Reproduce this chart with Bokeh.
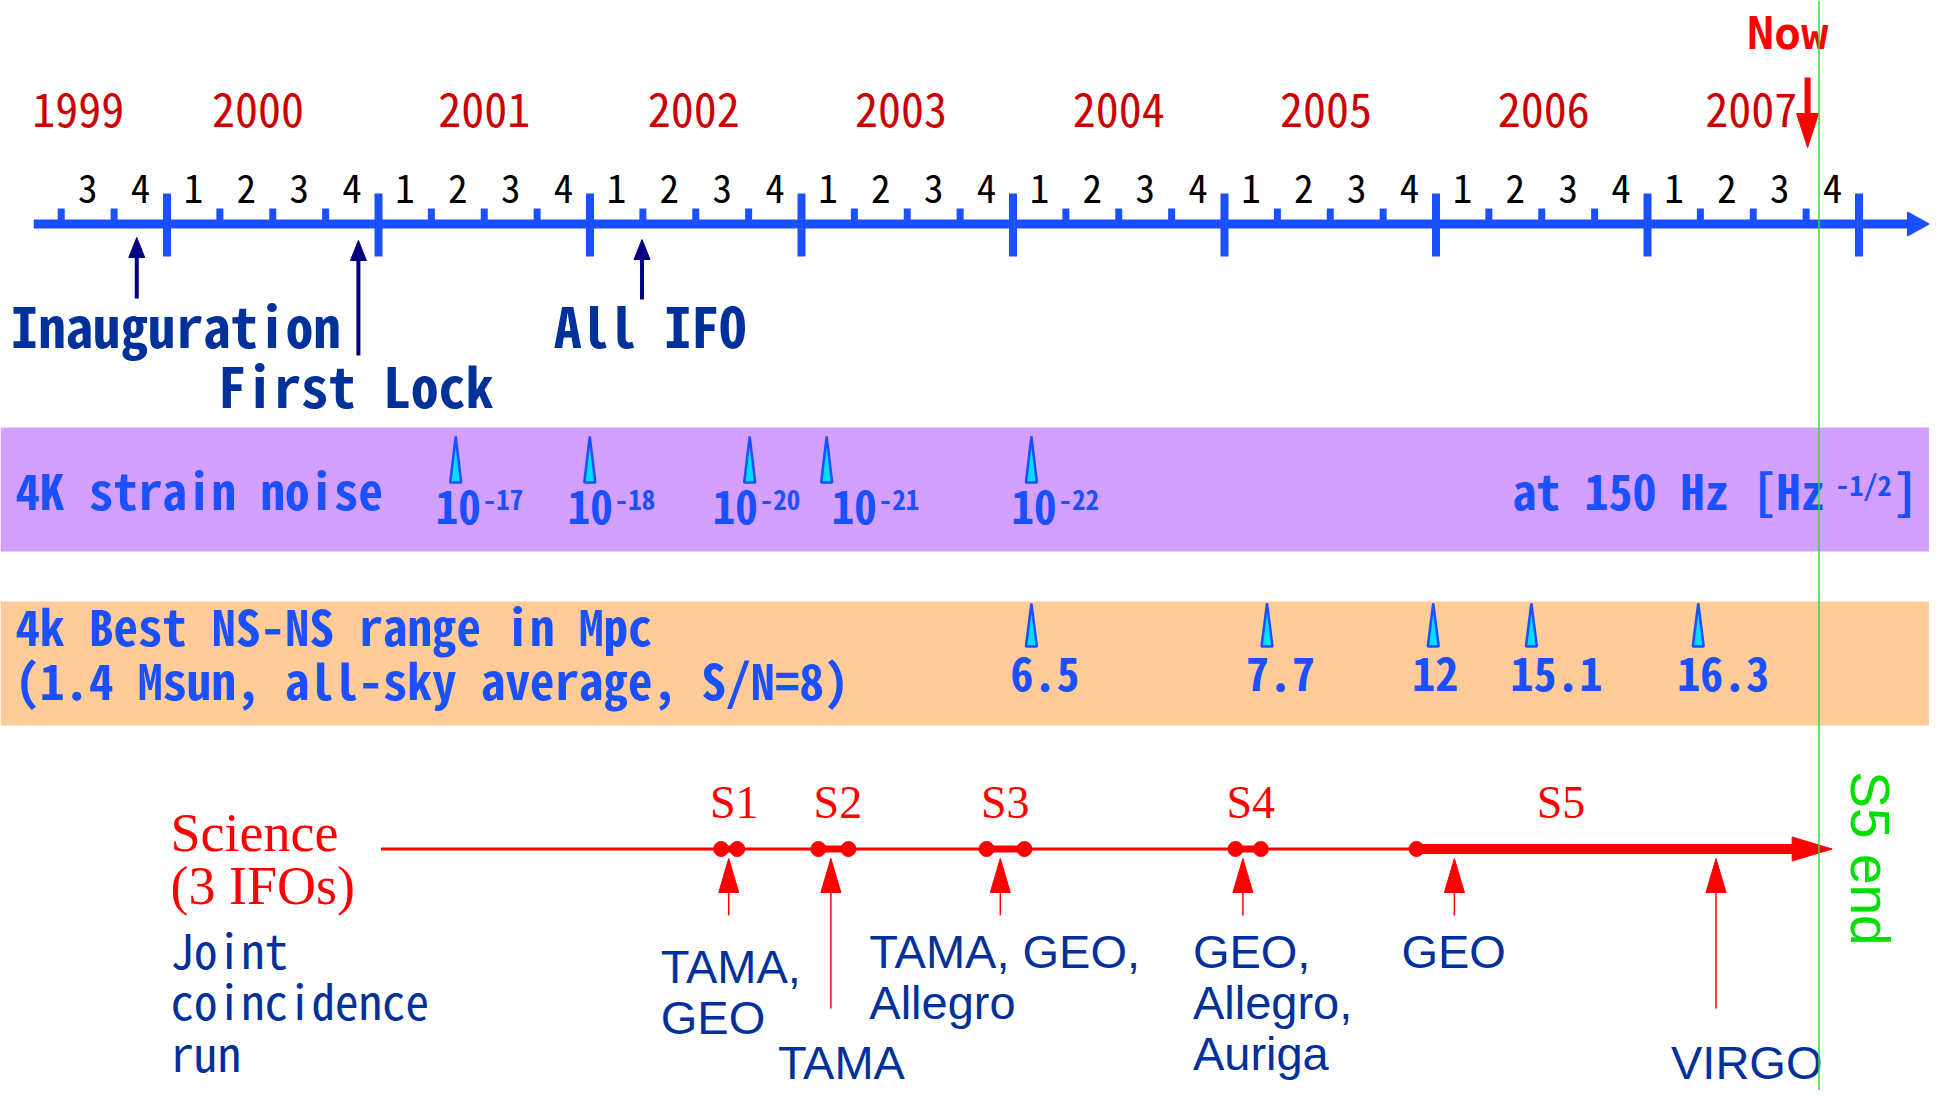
import numpy as np
from bokeh.plotting import figure
from bokeh.models import Range1d
from bokeh.core.properties import value
from bokeh.embed import file_html
from bokeh.resources import INLINE

# ---------------- data (in calendar years) ----------------
year_ticks = [2000, 2001, 2002, 2003, 2004, 2005, 2006, 2007, 2008]
year_labels = ["1999", "2000", "2001", "2002", "2003", "2004", "2005", "2006", "2007"]
year_label_x = [1999.58, 2000.43, 2001.50, 2002.49, 2003.47, 2004.50, 2005.48, 2006.51, 2007.49]
quarter_names = ["1", "2", "3", "4"]
timeline_start = 1999.37
first_quarter = 1999.5          # 1999 Q3

milestones = ["Inauguration", "First Lock", "All IFO"]
milestone_x = [1999.857, 2000.905, 2002.246]

now_x = 2007.757
s5_end_x = 2007.811

strain_x = [2001.365, 2001.999, 2002.755, 2003.119, 2004.087]
strain_exp = ["-17", "-18", "-20", "-21", "-22"]

range_x = [2004.087, 2005.201, 2005.987, 2006.451, 2007.240]
range_mpc = ["6.5", "7.7", "12", "15.1", "16.3"]

runs = ["S1", "S2", "S3", "S4", "S5"]
run_start = [2002.620, 2003.080, 2003.875, 2005.052, 2005.908]
run_end = [2002.696, 2003.222, 2004.054, 2005.172, 2007.873]
run_label_x = [2002.682, 2003.172, 2003.963, 2005.124, 2006.591]
science_start = 2001.012

coinc_x = [2002.656, 2003.139, 2003.940, 2005.087, 2006.087, 2007.324]
coinc_labels = [["TAMA,", "GEO"], ["TAMA"], ["TAMA, GEO,", "Allegro"],
                ["GEO,", "Allegro,", "Auriga"], ["GEO"], ["VIRGO"]]

# ---------------- layout / style ----------------
W, H = 1929, 1090
PXY = 211.5                       # screen px per year
X0 = 2000 - 166.5 / PXY
X1 = X0 + W / PXY


def px(d):
    return d / PXY


def at(d):
    """x position d screen-px from the left edge"""
    return X0 + px(d)


MONO = "Noto Sans Mono CJK JP"
MONO2 = "DejaVu Sans Mono"
SANS = "Liberation Sans"
SERIF = "Liberation Serif"
# measured shift of the rendered alphabetic baseline, as a fraction of the font size
BASE_K = {MONO: 0.40, MONO2: 0.35, SANS: 0.33, SERIF: 0.33}

AXIS_BLUE = "#1A50FF"
NAVY = "#000080"
TXT_NAVY = "#00309A"
RED = "#FF0000"
DARK_RED = "#CC0000"
PURPLE = "#D4A0FF"
ORANGE = "#FFCC99"
CYAN = "#00DDFF"
GREEN = "#33DD33"

p = figure(width=W, height=H, x_range=Range1d(X0, X1), y_range=Range1d(H, 0),
           x_axis_type=None, y_axis_type=None, output_backend="svg",
           toolbar_location=None, min_border=0, outline_line_color=None)
p.background_fill_color = "white"
p.border_fill_color = "white"


def tri(xc, tip, length, width, up=True):
    s = 1 if up else -1
    return ([xc - px(width / 2), xc, xc + px(width / 2)],
            [tip + s * length, tip, tip + s * length])


def txt(x, y, t, font, size, color, bold=False, align="left"):
    """y is the visual baseline (bottom of capitals) in screen px"""
    yy = [v - BASE_K[font] * size for v in y]
    p.text(x=x, y=yy, text=t, text_font=value(font), text_font_size=f"{size}px",
           text_font_style="bold" if bold else "normal", text_color=color,
           text_align=align, text_baseline="alphabetic")


# ---------------- bands ----------------
p.quad(left=[X0, X0], right=[X1, X1], top=[427, 601], bottom=[551, 725],
       fill_color=[PURPLE, ORANGE], line_color=None)

# ---------------- time axis ----------------
AXIS_Y = 223.5
p.segment(x0=[timeline_start], y0=[AXIS_Y], x1=[X1 - px(18)], y1=[AXIS_Y],
          line_color=AXIS_BLUE, line_width=9)
p.patch(x=[X1 - px(22), X1, X1 - px(22)], y=[AXIS_Y - 12, AXIS_Y, AXIS_Y + 12],
        fill_color=AXIS_BLUE, line_color=AXIS_BLUE)
p.segment(x0=year_ticks, y0=[193] * len(year_ticks), x1=year_ticks, y1=[256] * len(year_ticks),
          line_color=AXIS_BLUE, line_width=8)

q_ticks = [y + q / 4 for y in range(1999, 2008) for q in (1, 2, 3) if y + q / 4 >= first_quarter]
p.segment(x0=q_ticks, y0=[208] * len(q_ticks), x1=q_ticks, y1=[222] * len(q_ticks),
          line_color=AXIS_BLUE, line_width=7)

q_x, q_t = [], []
for y in range(1999, 2008):
    for q in range(4):
        c = y + (q + 0.5) / 4
        if c > first_quarter:
            q_x.append(c)
            q_t.append(quarter_names[q])
txt(q_x, [204] * len(q_x), q_t, MONO, 39, "black", align="center")
txt(year_label_x, [128] * len(year_labels), year_labels, MONO, 46, DARK_RED, align="center")

# Now marker
txt([now_x - px(20)], [49], ["Now"], MONO2, 45, RED, bold=True, align="center")
p.segment(x0=[now_x], y0=[77], x1=[now_x], y1=[116], line_color=RED, line_width=6)
tx, ty = tri(now_x, 147, 34, 22, up=False)
p.patch(x=tx, y=ty, fill_color=RED, line_color=RED)

# milestones
m_tip = [237, 240, 239]
m_bottom = [298, 355, 299]
m_off = [-126, -140, -88]
m_base = [345, 405, 345]
p.segment(x0=milestone_x, y0=[t + 15 for t in m_tip], x1=milestone_x, y1=m_bottom,
          line_color=NAVY, line_width=4)
mxs, mys = [], []
for x, t in zip(milestone_x, m_tip):
    a, b = tri(x, t, 20, 16)
    mxs.append(a)
    mys.append(b)
p.patches(xs=mxs, ys=mys, fill_color=NAVY, line_color=NAVY)
txt([x + px(o) for x, o in zip(milestone_x, m_off)], m_base, milestones, MONO, 55,
    TXT_NAVY, bold=True)

# ---------------- strain noise band ----------------
txt([at(15)], [508], ["4K strain noise"], MONO, 49, AXIS_BLUE, bold=True)
txt([at(1512)], [508], ["at 150 Hz [Hz"], MONO, 48, AXIS_BLUE, bold=True)
txt([at(1835)], [495], ["-1/2"], MONO, 28, AXIS_BLUE, bold=True)
txt([at(1893)], [508], ["]"], MONO, 48, AXIS_BLUE, bold=True)


def spikes(xs, tip, base):
    sx, sy = [], []
    for x in xs:
        a, b = tri(x, tip, base - tip, 11)
        sx.append(a)
        sy.append(b)
    p.patches(xs=sx, ys=sy, fill_color=CYAN, line_color=AXIS_BLUE, line_width=2.5)


spikes(strain_x, 436, 482)
s_off = [-20, -22, -37, 5, -20]
txt([x + px(o) for x, o in zip(strain_x, s_off)], [525] * len(strain_x), ["10"] * len(strain_x),
    MONO, 45, AXIS_BLUE, bold=True)
txt([x + px(o + 47) for x, o in zip(strain_x, s_off)], [510] * len(strain_x), strain_exp,
    MONO, 27, AXIS_BLUE, bold=True)

# ---------------- NS-NS range band ----------------
txt([at(15), at(15)], [644, 698],
    ["4k Best NS-NS range in Mpc", "(1.4 Msun, all-sky average, S/N=8)"],
    MONO, 49, AXIS_BLUE, bold=True)
spikes(range_x, 603, 646)
txt([x - px(21) for x in range_x], [692] * len(range_x), range_mpc, MONO, 46,
    AXIS_BLUE, bold=True)

# ---------------- science runs ----------------
SCI_Y = 848.5
p.segment(x0=[science_start], y0=[SCI_Y], x1=[run_start[-1]], y1=[SCI_Y],
          line_color=RED, line_width=3)
p.segment(x0=run_start[:-1], y0=[SCI_Y] * 4, x1=run_end[:-1], y1=[SCI_Y] * 4,
          line_color=RED, line_width=7)
p.segment(x0=[run_start[-1]], y0=[SCI_Y], x1=[run_end[-1] - px(36)], y1=[SCI_Y],
          line_color=RED, line_width=10)
p.patch(x=[run_end[-1] - px(40), run_end[-1], run_end[-1] - px(40)],
        y=[SCI_Y - 12, SCI_Y, SCI_Y + 12], fill_color=RED, line_color=RED)
dots = run_start[:-1] + run_end[:-1] + [run_start[-1]]
p.scatter(x=dots, y=[SCI_Y] * len(dots), size=15, marker="circle", fill_color=RED,
          line_color=RED)
txt(run_label_x, [817] * len(runs), runs, SERIF, 46, RED, align="center")

txt([at(170), at(170)], [850, 903], ["Science", "(3 IFOs)"], SERIF, 54, RED)
txt([at(170)] * 3, [967, 1018, 1070], ["Joint", "coincidence", "run"], MONO, 47, TXT_NAVY)

# joint coincidence arrows
c_bottom = [915, 1008, 915, 915, 915, 1008]
c_off = [-68, -53, -131, -50, -53, -45]
c_base = [982, 1078, 967, 967, 967, 1078]
p.segment(x0=coinc_x, y0=[880] * len(coinc_x), x1=coinc_x, y1=c_bottom,
          line_color=RED, line_width=1.5)
cxs, cys = [], []
for x in coinc_x:
    a, b = tri(x, 858, 34, 20)
    cxs.append(a)
    cys.append(b)
p.patches(xs=cxs, ys=cys, fill_color=RED, line_color=RED)
lx, ly, lt = [], [], []
for x, lines, b, o in zip(coinc_x, coinc_labels, c_base, c_off):
    for i, t in enumerate(lines):
        lx.append(x + px(o))
        ly.append(b + 51 * i)
        lt.append(t)
txt(lx, ly, lt, SANS, 47, TXT_NAVY)

# S5 end
p.segment(x0=[s5_end_x], y0=[0], x1=[s5_end_x], y1=[H], line_color=GREEN, line_width=1.5)
p.text(x=[s5_end_x + px(51)], y=[858], text=["S5 end"], angle=[-np.pi / 2],
       text_font=value(SANS), text_font_size="55px", text_color="#00E000",
       text_align="center", text_baseline="middle")

open("out.html", "w").write(file_html(p, INLINE))
